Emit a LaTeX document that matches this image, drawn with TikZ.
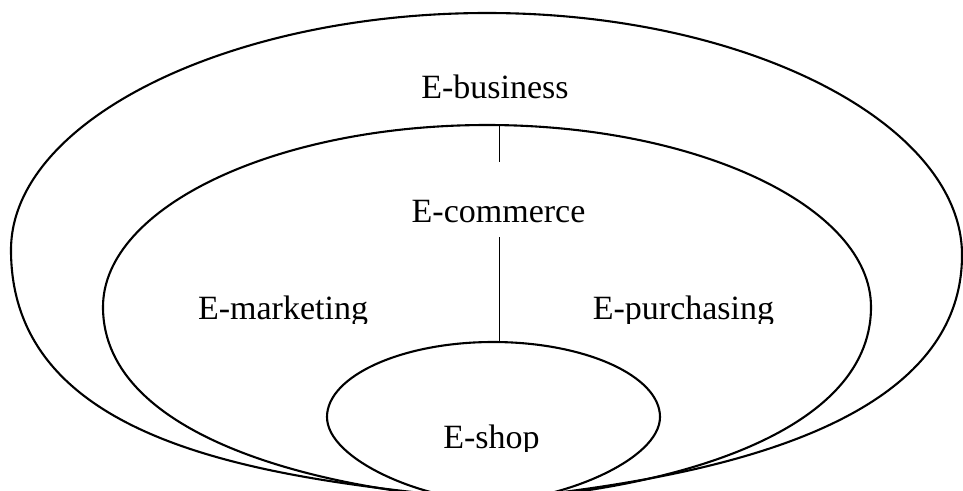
\documentclass[tikz,border=0pt]{standalone}
\usepackage{fontspec}
\setmainfont{Liberation Serif}
\begin{document}
\begin{tikzpicture}[x=1pt,y=-1pt,
  ring/.style={draw=black,line width=2.1pt,line join=round},
  link/.style={draw=black,line width=1pt},
  label/.style={anchor=base,inner sep=0pt,font=\fontsize{34}{40}\selectfont}]
\useasboundingbox (0,0) rectangle (963,490);
\clip (0,0) rectangle (963,490);

% outer region: E-business
\draw[ring] (491,500) .. controls (280,480) and (11,450) .. (11,250)
  .. controls (11,120) and (230,13) .. (487,13)
  .. controls (750,13) and (962,125) .. (962,255)
  .. controls (962,430) and (700,480) .. (491,500);

% middle region: E-commerce
\draw[ring] (491,500) .. controls (330,492) and (103,440) .. (103,307)
  .. controls (103,207) and (276,125) .. (487,125)
  .. controls (698,125) and (871,207) .. (871,307)
  .. controls (871,440) and (650,492) .. (491,500);

% inner region: E-shop
\draw[ring] (492,501) .. controls (425,501) and (327,460) .. (327,417)
  .. controls (327,376) and (402,342) .. (493,342)
  .. controls (585,342) and (660,376) .. (660,417)
  .. controls (660,460) and (560,501) .. (492,501);

% labels
\node[label] (ebiz) at (495,98) {E-business};
\node[label] (ecom) at (498.5,222) {E-commerce};
\begin{scope}
  \clip (150,280) rectangle (420,323);
  \node[label] (emkt) at (283,319) {E-marketing};
\end{scope}
\begin{scope}
  \clip (560,280) rectangle (820,323);
  \node[label] (epur) at (683.5,319) {E-purchasing};
\end{scope}
\begin{scope}
  \clip (420,400) rectangle (570,451.5);
  \node[label] (eshop) at (491.5,448) {E-shop};
\end{scope}

% connectors along the axis
\coordinate (midtop) at (499,125);
\coordinate (abovecom) at (499,162);
\coordinate (belowcom) at (499,237);
\coordinate (innertop) at (499,342);
\draw[link] (midtop) -- (abovecom);
\draw[link] (belowcom) -- (innertop);
\end{tikzpicture}
\end{document}
